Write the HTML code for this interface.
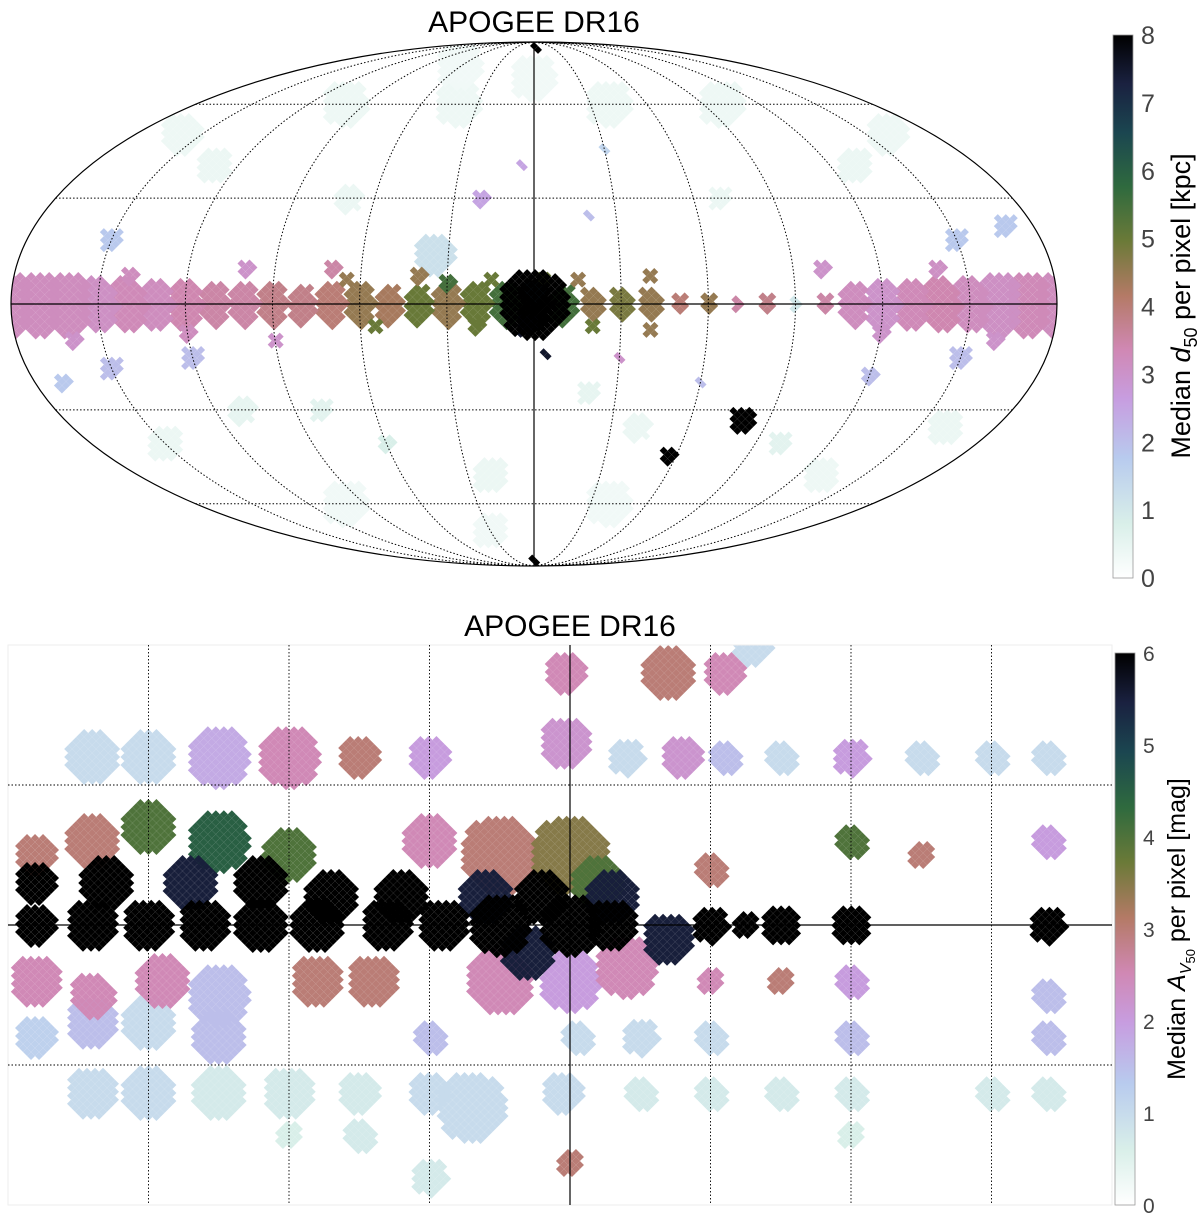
<!DOCTYPE html>
<html><head><meta charset="utf-8">
<style>
body{margin:0;background:#fff;}
svg{display:block;font-family:"Liberation Sans","DejaVu Sans",sans-serif;}
</style></head>
<body>
<svg id="chart" width="1200" height="1224" viewBox="0 0 1200 1224" xmlns="http://www.w3.org/2000/svg">
<defs>
<linearGradient id="cmap" x1="0" y1="1" x2="0" y2="0">
<stop offset="0" stop-color="#ffffff"/>
<stop offset="0.1" stop-color="#d9efe9"/>
<stop offset="0.22" stop-color="#b8cbee"/>
<stop offset="0.33" stop-color="#c79de0"/>
<stop offset="0.42" stop-color="#d088b4"/>
<stop offset="0.52" stop-color="#b47a66"/>
<stop offset="0.62" stop-color="#6b7a38"/>
<stop offset="0.72" stop-color="#2f6a3e"/>
<stop offset="0.82" stop-color="#1b4650"/>
<stop offset="0.91" stop-color="#1a2140"/>
<stop offset="1" stop-color="#000000"/>
</linearGradient>
<clipPath id="ellclip"><ellipse cx="534" cy="304" rx="523" ry="262"/></clipPath>
<clipPath id="boxclip"><rect x="8" y="645" width="1104" height="560"/></clipPath>
</defs>
<text x="534" y="32" font-size="30" text-anchor="middle" fill="#000">APOGEE DR16</text>
<g id="topcells" clip-path="url(#ellclip)"></g>
<g id="topgrid"></g>
<ellipse cx="534" cy="304" rx="523" ry="262" fill="none" stroke="#000" stroke-width="1.2"/>
<rect x="1113" y="35" width="20" height="543" fill="url(#cmap)" stroke="#999" stroke-width="0.8"/>
<g id="topticks"></g>
<text transform="translate(1190,306) rotate(-90)" font-size="27" text-anchor="middle" fill="#000">Median <tspan font-style="italic">d</tspan><tspan font-size="18" dy="7">50</tspan><tspan dy="-7"> per pixel  [kpc]</tspan></text>

<text x="570" y="636" font-size="30" text-anchor="middle" fill="#000">APOGEE DR16</text>
<g id="botcells" clip-path="url(#boxclip)"></g>
<g id="botgrid"></g>
<rect x="1115" y="653" width="20" height="552" fill="url(#cmap)" stroke="#999" stroke-width="0.8"/>
<g id="botticks"></g>
<text transform="translate(1185,929) rotate(-90)" font-size="25" text-anchor="middle" fill="#000">Median <tspan font-style="italic">A</tspan><tspan font-size="16" dy="6" font-style="italic">V</tspan><tspan font-size="13" dy="4">50</tspan><tspan dy="-10"> per pixel  [mag]</tspan></text>
</svg>
<script>
// ---------- data ----------
const planeL = [-180,-170,-160,-150,-140,-130,-120,-110,-100,-90,-80,-70,-60,-50,-40,-30,-20,-10,0,10,20,30,40,50,60,70,80,90,100,110,120,130,140,150,160,170,180];
const planeV = [3.2,3.3,3.1,3.2,3.4,3.3,3,3.2,3.5,1,3.8,3.5,4.5,4,4.5,4.8,4.5,5.5,8,5.5,5,4.5,5,4.3,4.5,4,3.8,3.8,3.5,3.5,3.4,3.2,3.3,3.1,3.2,3.2,3.2];
const planeW = [11,11,11,10,10,9,9,8,4,3,4,3,4,4,6,6,6,7,9,8,8,8,7,7,8,8,7,8,8,8,9,9,10,10,11,11,11];
// off-plane clusters [l, b, radius(deg), value]
const topBlobs = [
 [-80,-33,4.5,8],[-57,-44,3.2,8],[-4,-14,2,7.5],[0,0,12,8],[2,-6,4,7.5],[0,4,3.5,7],[-3,7,2.5,5],
 [-40,8,2.5,4.5],[40,8,3,4.5],[70,10,3,3.5],[-40,-7,2.5,4.5],[-20,-6,2.5,5],[20,-6,3,5],[30,6,3,5.5],[15,7,2.5,5],[-15,7,2.5,4.5],[55,-6,2.5,5],[65,7,2.5,4.5],
 [100,10,3,3],[120,-8,3,3.2],[140,8,3,3.2],[160,-10,3,3],[-100,10,3,3],[-120,-8,3,3],[-140,10,3,3.1],[-160,-10,3,3],[90,-10,2.5,3],[-30,-15,2,3],
 [-60,-22,2,2],[-120,-20,3,2],[120,-15,4,2],[150,-18,4,2],[-150,-15,4,2],[-150,18,4,1.8],[150,18,4,1.8],[-170,22,4,1.8],[170,-22,3,1.8],
 [35,14,7,1.2],[20,30,3,2.5],[-20,25,2,2],[5,40,2,2.5],[-30,45,2,1.5],[60,-40,3,0.8],[-100,-40,4,0.6],
 [-130,40,6,0.4],[130,40,6,0.4],[100,60,8,0.35],[-100,60,8,0.35],[40,60,8,0.35],[-40,60,8,0.35],[-40,-60,8,0.3],[100,-60,8,0.3],
 [20,-50,6,0.4],[150,-40,6,0.4],[-160,-35,6,0.4],[0,-85,2,8],[-3,85,2,8],
 [-20,-25,4,0.5],[80,-30,4,0.6],[-70,30,4,0.4],[30,-70,6,0.3],[160,50,7,0.35],[-160,50,7,0.35],[70,30,5,0.4],[-40,-35,5,0.4],[110,-30,5,0.5],[-130,-50,6,0.35],[0,70,8,0.3],[60,75,8,0.3]
];
const botBlobs = [
 [34,12,2,1],[30,12,2,1],[25,12,2.2,1.8],[20,12,2.2,2.5],[15,12,1.5,3],[10,12,1.5,2],[0.3,13,1.8,2.2],[0.3,18,1.5,2.5],
 [-4,12,1.3,1],[-8,12,1.5,2.2],[-11,12,1.2,1.5],[-15,12,1.2,1],[-20,12,1.3,2],[-25,12,1.2,1],[-30,12,1.2,1],[-34,12,1.2,1],
 [-7,18,2,3],[-11,18,1.5,2.5],[-13,20,1.5,1],
 [38,5,1.5,3],[34,6,2,3],[30,7,2,4],[25,6,2.2,4.5],[20,5,2,4],[10,6,2,2.5],[5,5,2.8,3],[0,5,2.8,3.5],[-2,3,2,4],[-10,4,1.2,3],[-20,6,1.2,4],[-25,5,1,3],[-34,6,1.2,2],
 [38,3,1.5,6],[33,3,2,6],[27,3,2,5.5],[22,3,2,6],[17,2,2,6],[12,2,2,6],[6,2,2,5.5],[2,2,2,6],[-3,2,2,5.5],
 [38,0,1.5,6],[34,0,1.8,6],[30,0,1.8,6],[26,0,1.8,6],[22,0,2,6],[18,0,2,6],[13,0,1.8,6],[9,0,1.8,6],[5,0,2.2,6],[0,0,2.2,6],[-3,0,1.8,6],
 [-10,0,1.3,6],[-12.5,0,1,6],[-15,0,1.4,6],[-20,0,1.4,6],[-34,0,1.3,6],[-7,-1,1.8,5.5],[3,-2,2,5.5],
 [38,-4,1.8,2.5],[34,-5,1.6,2.5],[29,-4,2,2.5],[25,-5,2.2,1.5],[18,-4,1.8,3],[14,-4,1.8,3],[5,-4,2.4,2.5],[0,-4,2.2,2],[-4,-3,2.2,2.5],[-10,-4,1,2.5],[-15,-4,1,3],[-20,-4,1.2,2],[-34,-5,1.2,1.5],
 [38,-8,1.5,1.2],[34,-7,1.8,1.5],[30,-7,2,1],[25,-8,2,1.5],[10,-8,1.2,1.5],[-0.5,-8,1.2,1],[-5,-8,1.3,1],[-10,-8,1.2,1],[-20,-8,1.2,1.5],[-34,-8,1.2,1.5],
 [34,-12,1.8,1],[30,-12,2,1],[25,-12,2,0.7],[20,-12,1.8,0.7],[15,-12,1.5,0.7],[10,-12,1.5,1],[7,-13,2.5,1],[0.5,-12,1.5,1],[-5,-12,1.2,0.7],[-10,-12,1.2,0.7],[-15,-12,1.2,0.7],[-20,-12,1.2,0.7],[-30,-12,1.2,0.7],[-34,-12,1.2,0.7],[-20,-15,1,0.6],
 [15,-15,1.2,0.7],[10,-18,1.3,0.7],[0,-17,1,3],[20,-15,1,0.6]
];
const topTicks = [0,1,2,3,4,5,6,7,8];
const botTicks = [0,1,2,3,4,5,6];

const stops=[[0,[255,255,255]],[0.1,[217,239,233]],[0.22,[184,203,238]],[0.33,[199,157,224]],[0.42,[208,136,180]],[0.52,[180,122,102]],[0.62,[107,122,56]],[0.72,[47,106,62]],[0.82,[27,70,80]],[0.91,[26,33,64]],[1,[0,0,0]]];
function cmap(t){t=Math.max(0,Math.min(1,t));for(let i=1;i<stops.length;i++){if(t<=stops[i][0]){const a=stops[i-1],b=stops[i],f=(t-a[0])/(b[0]-a[0]);const c=a[1].map((v,k)=>Math.round(v+(b[1][k]-v)*f));return `rgb(${c})`;}}return 'rgb(0,0,0)';}
const NS='http://www.w3.org/2000/svg';
function mk(tag,attrs,parent){const e=document.createElementNS(NS,tag);for(const k in attrs)e.setAttribute(k,attrs[k]);parent.appendChild(e);return e;}

const CX=534,CY=304,A=523,B=262;
function moll(l,b){const phi=b*Math.PI/180;let th=phi;for(let i=0;i<30;i++){const f=2*th+Math.sin(2*th)-Math.PI*Math.sin(phi);const d=2+2*Math.cos(2*th);if(Math.abs(d)<1e-9)break;th-=f/d;}
 return [CX-A*(l/180)*Math.cos(th),CY-B*Math.sin(th)];}
const topG=document.getElementById('topcells');
function diamondBlob(g,cx,cy,rx,ry,color,s){
 for(let y=-ry;y<=ry;y+=s/2){const row=Math.round((y+ry)/(s/2));for(let x=-rx+(row%2?s/2:0);x<=rx;x+=s){
  if((x*x)/(rx*rx)+(y*y)/(ry*ry)>1)continue;const px=cx+x,py=cy+y;
  const p=mk('polygon',{points:`${px},${py-s/2} ${px+s/2},${py} ${px},${py+s/2} ${px-s/2},${py}`,fill:color},g);
  
  }}}
topBlobs.filter(b=>b[3]<3).forEach(b=>{const [x,y]=moll(b[0],b[1]);const r=b[2]*A/180;diamondBlob(topG,x,y,r,r,cmap(b[3]/8),8);});
planeL.forEach((l,i)=>{const [x,y]=moll(l,0);const w=planeW[i]*A/180;
 diamondBlob(topG,x,y,w*0.7,w,cmap(planeV[i]/8),9);});
topBlobs.filter(b=>b[3]>=3).sort((a,b)=>a[3]-b[3]).forEach(b=>{const [x,y]=moll(b[0],b[1]);const r=b[2]*A/180;diamondBlob(topG,x,y,r,r,cmap(b[3]/8),8);});
const tg=document.getElementById('topgrid');
for(let l=-150;l<=150;l+=30){let d='';for(let b=-90;b<=90;b+=2){const [x,y]=moll(l,b);d+=(b===-90?'M':'L')+x.toFixed(1)+','+y.toFixed(1);}
 const p=mk('path',{d,fill:'none',stroke:'#000','stroke-width':l===0?1.2:1,'stroke-dasharray':l===0?'none':'1.5,2'},tg);
 
 }
[-60,-30,0,30,60].forEach(b=>{const [x1,y]=moll(-180,b);const [x2]=moll(180,b);
 const p=mk('line',{x1:x2,y1:y,x2:x1,y2:y,stroke:'#000','stroke-width':b===0?1.2:1,'stroke-dasharray':b===0?'none':'1.5,2'},tg);
 
 });
const tt=document.getElementById('topticks');
topTicks.forEach(v=>{const y=578-v/8*543;
 const t=mk('text',{x:1141,y:y+9,'font-size':25,fill:'#444'},tt);t.textContent=v;
 
 });

const X0=570,Y0=925,SX=14.05,SY=14;
const bx=l=>X0-l*SX, by=b=>Y0-b*SY;
const botG=document.getElementById('botcells');
[...botBlobs].sort((a,b)=>a[3]-b[3]).forEach(b=>{diamondBlob(botG,bx(b[0]),by(b[1]),b[2]*SX,b[2]*SY,cmap(b[3]/6),8);});
const bg=document.getElementById('botgrid');
mk('rect',{x:8,y:645,width:1104,height:560,fill:'none',stroke:'#eee','stroke-width':1},bg);
[30,20,10,0,-10,-20,-30].forEach(l=>{const x=bx(l);
 const p=mk('line',{x1:x,y1:645,x2:x,y2:1205,stroke:'#000','stroke-width':l===0?1.2:0.9,'stroke-dasharray':l===0?'none':'1.5,2'},bg);
 
 });
[10,0,-10].forEach(b=>{const y=by(b);
 const p=mk('line',{x1:8,y1:y,x2:1112,y2:y,stroke:'#000','stroke-width':b===0?1.2:0.9,'stroke-dasharray':b===0?'none':'1.5,2'},bg);
 
 });
const bt=document.getElementById('botticks');
botTicks.forEach(v=>{const y=1205-v/6*552;
 const t=mk('text',{x:1143,y:y+8,'font-size':21,fill:'#444'},bt);t.textContent=v;
 
 });
</script>
</body></html>
